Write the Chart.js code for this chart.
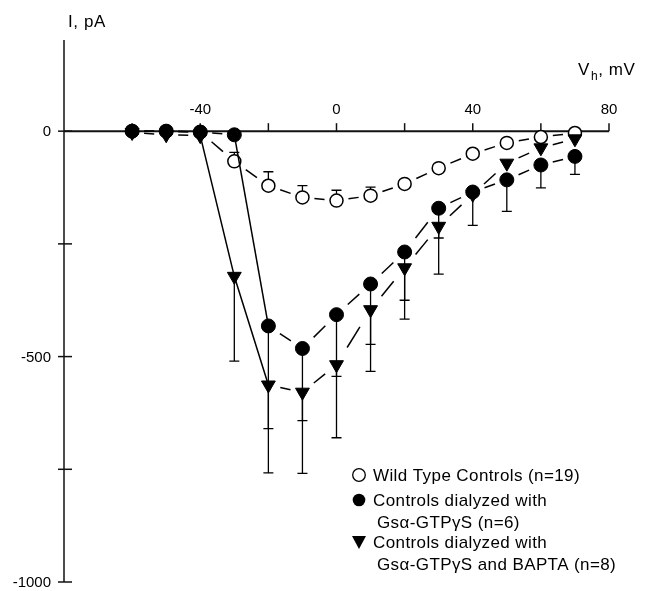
<!DOCTYPE html>
<html>
<head>
<meta charset="utf-8">
<script src="https://cdn.jsdelivr.net/npm/chart.js@4.4.0/dist/chart.umd.min.js"></script>
<style>
  html, body { margin: 0; padding: 0; background: #fff; }
  #wrap { width: 646px; height: 591px; }
</style>
</head>
<body>
<div id="wrap"><canvas id="chart" width="646" height="591"></canvas></div>
<script>
const voltages = [-60, -50, -40, -30, -20, -10, 0, 10, 20, 30, 40, 50, 60, 70];

// Wild Type Controls (n=19) - error bars point up
const wildType    = [0, 0, -2, -67, -121, -147, -154, -143, -117, -82, -50, -26, -13, -4];
const wildTypeErr = [0, 0, 0, 20, 31, 26, 23, 19, 0, 0, 0, 0, 0, 0];

// Controls dialyzed with Gsα-GTPγS (n=6) - error bars point down
const gtp    = [0, 0, -2, -8, -432, -482, -407, -339, -268, -171, -135, -108, -75, -56];
const gtpErr = [0, 0, 0, 0, 228, 160, 137, 134, 107, 66, 74, 70, 51, 40];

// Controls dialyzed with Gsα-GTPγS and BAPTA (n=8) - error bars point down
const bapta    = [-3, -8, -10, -322, -563, -579, -518, -396, -303, -211, -140, -71, -37, -17];
const baptaErr = [0, 0, 0, 188, 195, 180, 162, 137, 114, 106, 0, 0, 0, 0];

const xTicks = [-60, -40, -20, 0, 20, 40, 60, 80];
const xTickLabels = ['', '-40', '', '0', '', '40', '', '80'];
const yTicks = [0, -250, -500, -750, -1000];
const yTickLabels = ['0', '', '-500', '', '-1000'];

const legendItems = [
  { style: 'open', lines: ['Wild Type Controls (n=19)'] },
  { style: 'filled', lines: ['Controls dialyzed with', 'Gsα-GTPγS (n=6)'] },
  { style: 'triangle', lines: ['Controls dialyzed with', 'Gsα-GTPγS and BAPTA (n=8)'] }
];

const FONT = "'Liberation Sans', Arial, Helvetica, sans-serif";
Chart.defaults.font.family = FONT;
Chart.defaults.color = '#000';

const toPoints = (ys) => voltages.map((v, i) => ({ x: v, y: ys[i] }));

// one centred dash per segment, with gaps next to the markers
function dashGap(ctx) {
  const len = Math.hypot(ctx.p1.x - ctx.p0.x, ctx.p1.y - ctx.p0.y);
  return { len, gap: 12.5 + 0.27 * (len - 36) };
}
function dashedSegment(solidFrom) {
  const isSolid = (ctx) => solidFrom.includes(ctx.p0DataIndex);
  return {
    borderDash: (ctx) => {
      if (isSolid(ctx)) return [];
      const { len, gap } = dashGap(ctx);
      return [Math.max(len - 2 * gap, 2), 2 * len + 10 + ctx.p0DataIndex * 0.01];
    },
    borderDashOffset: (ctx) => isSolid(ctx) ? 0 : -dashGap(ctx).gap
  };
}

const errorBars = [
  { data: wildType, err: wildTypeErr, dir: 1 },
  { data: gtp, err: gtpErr, dir: -1 },
  { data: bapta, err: baptaErr, dir: -1 }
];

const axesPlugin = {
  id: 'axes',
  beforeDatasetsDraw(chart) {
    const { ctx, scales: { x, y } } = chart;
    const x0 = x.getPixelForValue(-80);
    const y0 = y.getPixelForValue(0);
    ctx.save();
    ctx.strokeStyle = '#111';
    ctx.fillStyle = '#000';

    // y axis
    ctx.lineWidth = 1.5;
    ctx.beginPath();
    ctx.moveTo(x0, y.getPixelForValue(202));
    ctx.lineTo(x0, y.getPixelForValue(-1000));
    ctx.stroke();
    ctx.font = '15px ' + FONT;
    ctx.textAlign = 'right';
    ctx.textBaseline = 'middle';
    yTicks.forEach((t, i) => {
      const py = y.getPixelForValue(t);
      ctx.beginPath();
      ctx.moveTo(x0 - 6, py);
      ctx.lineTo(x0 + 8, py);
      ctx.stroke();
      if (yTickLabels[i]) ctx.fillText(yTickLabels[i], x0 - 13, py + 1);
    });

    // x axis along I = 0
    ctx.lineWidth = 2;
    ctx.beginPath();
    ctx.moveTo(x0, y0);
    ctx.lineTo(x.getPixelForValue(80), y0);
    ctx.stroke();
    ctx.lineWidth = 1.5;
    ctx.textAlign = 'center';
    ctx.textBaseline = 'alphabetic';
    xTicks.forEach((t, i) => {
      const px = x.getPixelForValue(t);
      ctx.beginPath();
      ctx.moveTo(px, y0);
      ctx.lineTo(px, y0 - 8);
      ctx.stroke();
      if (xTickLabels[i]) ctx.fillText(xTickLabels[i], px, y0 - 17);
    });

    // axis titles
    ctx.font = '17px ' + FONT;
    ctx.letterSpacing = '0.6px';
    ctx.textAlign = 'left';
    ctx.fillText('I, pA', 68, 27);
    let tx = 578;
    ctx.fillText('V', tx, 75);
    tx += ctx.measureText('V').width;
    ctx.font = '12px ' + FONT;
    ctx.fillText('h', tx + 1, 80);
    tx += ctx.measureText('h').width + 1;
    ctx.font = '17px ' + FONT;
    ctx.fillText(', mV', tx, 75);
    ctx.letterSpacing = '0px';

    // error bars
    ctx.lineWidth = 1.3;
    ctx.strokeStyle = '#000';
    errorBars.forEach(s => {
      s.err.forEach((e, i) => {
        if (!e) return;
        const px = x.getPixelForValue(voltages[i]);
        const pa = y.getPixelForValue(s.data[i]);
        const pb = y.getPixelForValue(s.data[i] + s.dir * e);
        ctx.beginPath();
        ctx.moveTo(px, pa);
        ctx.lineTo(px, pb);
        ctx.moveTo(px - 5, pb);
        ctx.lineTo(px + 5, pb);
        ctx.stroke();
      });
    });
    ctx.restore();
  },
  afterDraw(chart) {
    const { ctx } = chart;
    const symX = 359, textX = 373;
    const rows = [475, 500, 522, 542, 564];
    ctx.save();
    ctx.font = '17px ' + FONT;
    ctx.letterSpacing = '0.4px';
    ctx.fillStyle = '#000';
    ctx.strokeStyle = '#000';
    ctx.textAlign = 'left';
    ctx.textBaseline = 'middle';
    let r = 0;
    legendItems.forEach(item => {
      const sy = rows[r];
      ctx.lineWidth = 1.3;
      ctx.beginPath();
      if (item.style === 'triangle') {
        ctx.moveTo(symX - 7, sy - 6);
        ctx.lineTo(symX + 7, sy - 6);
        ctx.lineTo(symX, sy + 7);
        ctx.closePath();
        ctx.fill();
      } else {
        ctx.arc(symX, sy, 6.3, 0, Math.PI * 2);
        if (item.style === 'filled') ctx.fill(); else ctx.stroke();
      }
      item.lines.forEach((line, k) => {
        ctx.fillText(line, textX + (k ? 4 : 0), rows[r] + 1);
        r++;
      });
    });
    ctx.restore();
  }
};

new Chart(document.getElementById('chart'), {
  type: 'scatter',
  data: {
    datasets: [
      {
        label: 'Controls dialyzed with Gsα-GTPγS (n=6)',
        data: toPoints(gtp),
        showLine: true,
        borderColor: '#000',
        borderWidth: 1.5,
        backgroundColor: '#000',
        pointStyle: 'circle',
        pointRadius: 7,
        pointBorderWidth: 1,
        segment: dashedSegment([3])
      },
      {
        label: 'Controls dialyzed with Gsα-GTPγS and BAPTA (n=8)',
        data: toPoints(bapta),
        showLine: true,
        borderColor: '#000',
        borderWidth: 1.5,
        backgroundColor: '#000',
        pointStyle: 'triangle',
        rotation: 180,
        pointRadius: 8,
        pointBorderWidth: 1,
        segment: dashedSegment([2, 3])
      },
      {
        label: 'Wild Type Controls (n=19)',
        data: toPoints(wildType),
        showLine: true,
        borderColor: '#000',
        borderWidth: 1.5,
        backgroundColor: '#fff',
        pointStyle: 'circle',
        pointRadius: 6.5,
        pointBorderWidth: 1.5,
        segment: dashedSegment([])
      }
    ]
  },
  options: {
    responsive: false,
    animation: false,
    devicePixelRatio: 1,
    events: [],
    layout: { padding: { left: 64, right: 37, top: 41, bottom: 8 } },
    scales: {
      x: { type: 'linear', min: -80, max: 80, display: false },
      y: { type: 'linear', min: -1000, max: 200, display: false }
    },
    plugins: {
      legend: { display: false },
      tooltip: { enabled: false }
    }
  },
  plugins: [axesPlugin]
});
</script>
</body>
</html>
